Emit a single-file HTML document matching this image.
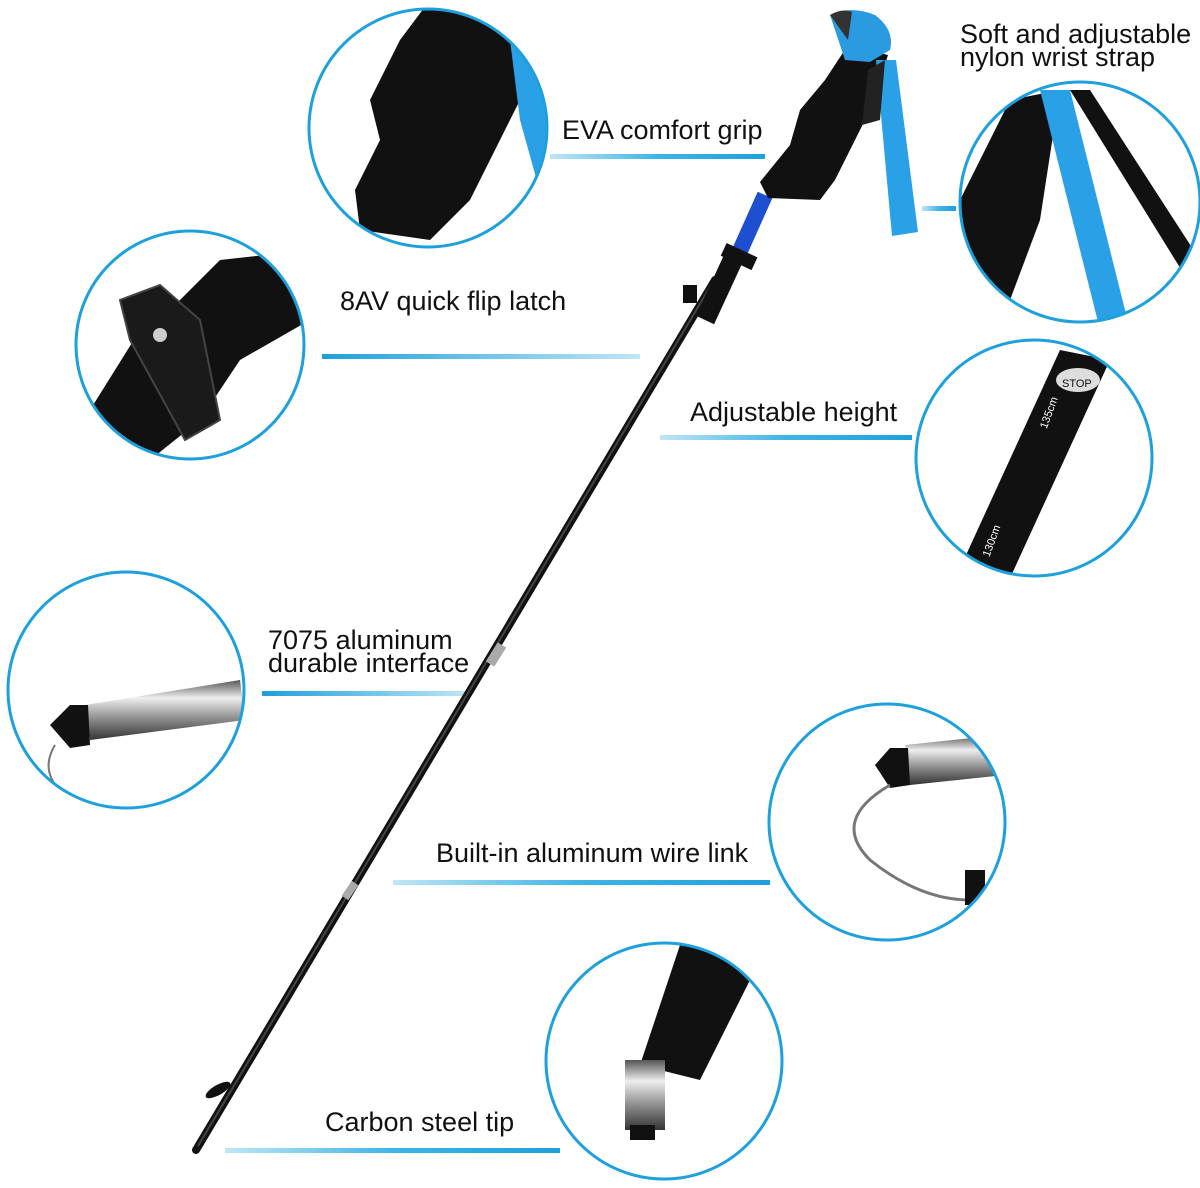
<!DOCTYPE html>
<html><head><meta charset="utf-8"><style>
html,body{margin:0;padding:0;background:#fff;}
svg{display:block;}
text{font-family:"Liberation Sans",sans-serif;font-size:27px;fill:#111;}
</style></head><body>
<svg width="1200" height="1188" viewBox="0 0 1200 1188" xmlns="http://www.w3.org/2000/svg">
<defs>
<linearGradient id="g" x1="0" x2="1" y1="0" y2="0">
<stop offset="0" stop-color="#bfe6f5"/><stop offset="0.5" stop-color="#3fb4e6"/><stop offset="1" stop-color="#1ea0dc"/>
</linearGradient>
<linearGradient id="gr" x1="1" x2="0" y1="0" y2="0">
<stop offset="0" stop-color="#bfe6f5"/><stop offset="1" stop-color="#1ea0dc"/>
</linearGradient>
<linearGradient id="metal" x1="0" x2="0" y1="0" y2="1">
<stop offset="0" stop-color="#555"/><stop offset="0.3" stop-color="#eee"/><stop offset="0.6" stop-color="#999"/><stop offset="1" stop-color="#333"/>
</linearGradient>
<clipPath id="c1"><circle cx="428" cy="128" r="119"/></clipPath>
<clipPath id="c2"><circle cx="1080" cy="202" r="120"/></clipPath>
<clipPath id="c3"><circle cx="190" cy="345" r="114"/></clipPath>
<clipPath id="c4"><circle cx="1034" cy="458" r="118"/></clipPath>
<clipPath id="c5"><circle cx="126" cy="690" r="118"/></clipPath>
<clipPath id="c6"><circle cx="887" cy="822" r="118"/></clipPath>
<clipPath id="c7"><circle cx="664" cy="1061" r="118"/></clipPath>
</defs>

<rect x="550" y="154" width="215" height="5" fill="url(#g)"/>
<rect x="922" y="206" width="34" height="5" fill="url(#g)"/>
<rect x="322" y="354" width="318" height="5" fill="url(#gr)"/>
<rect x="660" y="435" width="252" height="5" fill="url(#g)"/>
<rect x="262" y="691" width="208" height="5" fill="url(#gr)"/>
<rect x="393" y="880" width="377" height="5" fill="url(#g)"/>
<rect x="225" y="1148" width="335" height="5" fill="url(#g)"/>

<text x="562" y="139">EVA comfort grip</text>
<text x="960" y="43">Soft and adjustable</text>
<text x="960" y="66">nylon wrist strap</text>
<text x="340" y="310">8AV quick flip latch</text>
<text x="690" y="421">Adjustable height</text>
<text x="268" y="649">7075 aluminum</text>
<text x="268" y="672">durable interface</text>
<text x="436" y="862">Built-in aluminum wire link</text>
<text x="325" y="1131">Carbon steel tip</text>

<line x1="715" y1="280" x2="196" y2="1150" stroke="#111" stroke-width="8" stroke-linecap="round"/>
<line x1="713" y1="282" x2="198" y2="1146" stroke="#444" stroke-width="2"/>
<line x1="502" y1="645" x2="490" y2="664" stroke="#aaa" stroke-width="10"/>
<line x1="355" y1="883" x2="345" y2="898" stroke="#aaa" stroke-width="8"/>
<ellipse cx="218" cy="1090" rx="14" ry="5" fill="#111" transform="rotate(-30 218 1090)"/>
<line x1="765" y1="195" x2="735" y2="262" stroke="#1e4fd0" stroke-width="16"/>
<line x1="735" y1="255" x2="705" y2="320" stroke="#111" stroke-width="20"/>
<rect x="722" y="250" width="34" height="14" fill="#111" transform="rotate(25 740 257)"/>
<rect x="683" y="285" width="14" height="18" fill="#111"/>
<path d="M848 45 L888 55 L870 110 L835 180 L820 200 L768 198 L760 182 L790 145 L800 110 L825 80 Z" fill="#111"/>
<path d="M830 15 Q850 5 875 15 Q895 30 890 50 L870 62 L845 60 Z" fill="#2a9be0"/>
<path d="M830 15 Q842 8 852 12 L848 40 Z" fill="#333"/>
<path d="M876 60 L896 60 L918 232 L892 236 Z" fill="#2aa0e6"/>
<path d="M868 70 L885 60 L880 120 L862 125 Z" fill="#222"/>

<g clip-path="url(#c1)">
 <path d="M430 0 L520 0 L520 100 L470 200 L430 240 L360 230 L355 190 L380 140 L370 100 L400 40 Z" fill="#111"/>
 <path d="M510 40 L560 40 L560 200 L545 210 L520 120 Z" fill="#2aa0e6"/>
</g>
<circle cx="428" cy="128" r="119" fill="none" stroke="#1ea0dc" stroke-width="3"/>

<g clip-path="url(#c2)">
 <path d="M960 200 L1010 100 L1060 90 L1040 220 L1010 300 L970 300 Z" fill="#111"/>
 <path d="M1040 90 L1070 90 L1130 330 L1100 330 Z" fill="#2aa0e6"/>
 <path d="M1070 90 L1090 90 L1200 260 L1200 300 Z" fill="#111"/>
</g>
<circle cx="1080" cy="202" r="120" fill="none" stroke="#1ea0dc" stroke-width="3"/>

<g clip-path="url(#c3)">
 <path d="M90 410 L140 330 L180 300 L220 260 L310 250 L310 320 L240 360 L200 420 L150 460 Z" fill="#111"/>
 <path d="M120 300 L160 285 L200 320 L220 420 L185 440 L130 340 Z" fill="#1a1a1a" stroke="#444" stroke-width="2"/>
 <circle cx="160" cy="335" r="7" fill="#ccc"/>
</g>
<circle cx="190" cy="345" r="114" fill="none" stroke="#1ea0dc" stroke-width="3"/>

<g clip-path="url(#c4)">
 <path d="M1060 350 L1110 360 L1000 600 L950 590 Z" fill="#111"/>
 <ellipse cx="1078" cy="380" rx="22" ry="12" fill="#ddd"/>
 <text x="1062" y="387" style="font-size:11px">STOP</text>
 <text x="1040" y="420" style="font-size:11px;fill:#fff" transform="rotate(-70 1050 420)">135cm</text>
 <text x="970" y="550" style="font-size:11px;fill:#fff" transform="rotate(-70 985 540)">130cm</text>
</g>
<circle cx="1034" cy="458" r="118" fill="none" stroke="#1ea0dc" stroke-width="3"/>

<g clip-path="url(#c5)">
 <path d="M85 705 L240 680 L245 720 L90 740 Z" fill="url(#metal)"/>
 <path d="M50 725 L70 705 L88 705 L90 745 L70 748 Z" fill="#111"/>
 <path d="M55 745 Q40 770 60 790" stroke="#777" stroke-width="2" fill="none"/>
</g>
<circle cx="126" cy="690" r="118" fill="none" stroke="#1ea0dc" stroke-width="3"/>

<g clip-path="url(#c6)">
 <path d="M905 745 L1000 735 L1005 775 L910 785 Z" fill="url(#metal)"/>
 <path d="M875 765 L890 748 L908 748 L910 785 L890 788 Z" fill="#111"/>
 <path d="M890 785 Q830 820 870 860 Q920 900 970 900" stroke="#777" stroke-width="3" fill="none"/>
 <rect x="965" y="870" width="20" height="35" fill="#111"/>
</g>
<circle cx="887" cy="822" r="118" fill="none" stroke="#1ea0dc" stroke-width="3"/>

<g clip-path="url(#c7)">
 <path d="M680 945 L760 960 L700 1080 L640 1065 Z" fill="#111"/>
 <rect x="625" y="1060" width="40" height="70" fill="url(#metal)"/>
 <rect x="630" y="1125" width="25" height="15" fill="#111"/>
</g>
<circle cx="664" cy="1061" r="118" fill="none" stroke="#1ea0dc" stroke-width="3"/>
</svg>
</body></html>
